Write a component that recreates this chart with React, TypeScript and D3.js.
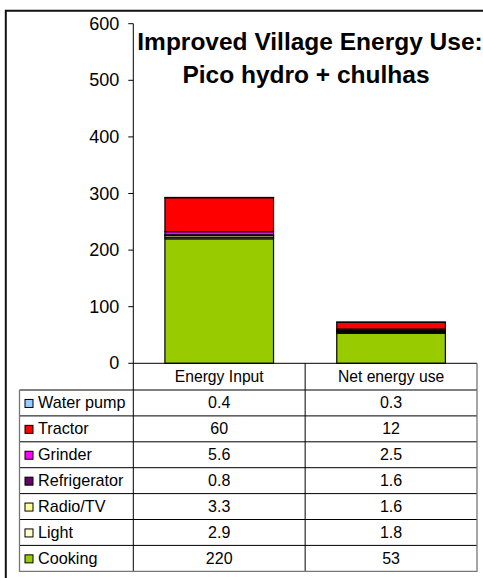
import React from "react";
import * as d3 from "d3";

const columns = ["Energy Input", "Net energy use"];
// bottom-to-top stacking order
const seriesNames = ["Cooking", "Light", "Radio/TV", "Refrigerator", "Grinder", "Tractor", "Water pump"];
const energyInput = [220, 2.9, 3.3, 0.8, 5.6, 60, 0.4];
const netEnergyUse = [53, 1.8, 1.6, 1.6, 2.5, 12, 0.3];
const seriesColors = ["#99CC00", "#FFFFCC", "#FFFF99", "#660066", "#FF00FF", "#FF0000", "#99CCFF"];
const yTicks = [0, 100, 200, 300, 400, 500, 600];
const titleLines = ["Improved Village Energy Use:", "Pico hydro + chulhas"];

const W = 483;
const H = 578;
const FONT = "Liberation Sans, Arial, sans-serif";

export default function App() {
  const axisX = 133.3;
  const tableRight = 477;
  const tableLeft = 19.5;
  const y0 = 363.3;
  const y600 = 23.7;
  const rowH = 25.9;

  const x = d3.scaleBand<string>().domain(columns).range([axisX, tableRight]).paddingInner(0.368).paddingOuter(0.184);
  const xCol = d3.scaleBand<string>().domain(columns).range([axisX, tableRight]);
  const y = d3.scaleLinear().domain([0, 600]).range([y0, y600]);

  const rows = columns.map((c, i) => {
    const r: Record<string, any> = { col: c };
    seriesNames.forEach((s, j) => {
      r[s] = i === 0 ? energyInput[j] : netEnergyUse[j];
    });
    return r;
  });
  const stacked = d3.stack<any>().keys(seriesNames)(rows);

  const tableRows = seriesNames.map((s, j) => ({ name: s, color: seriesColors[j], vals: [energyInput[j], netEnergyUse[j]] })).reverse();
  const tableTop = y0 + rowH + 0.8;
  const tableBottom = tableTop + rowH * tableRows.length;

  return (
    <svg width={W} height={H} style={{ position: "absolute", left: 0, top: 0, background: "#fff" }} fontFamily={FONT}>
      <rect x={0} y={0} width={W} height={H} fill="#fff" />
      {/* outer frame */}
      <path d={`M5.8,${H + 2} V10.8 H${W + 2}`} fill="none" stroke="#111" strokeWidth={2} />

      {/* bars */}
      {stacked.map((layer, li) => (
        <g key={layer.key}>
          {layer.map((d: any, i: number) => (
            <rect
              key={i}
              x={x(columns[i])}
              width={x.bandwidth()}
              y={y(d[1])}
              height={y(d[0]) - y(d[1])}
              fill={seriesColors[li]}
              stroke="#000"
              strokeWidth={1.2}
            />
          ))}
        </g>
      ))}

      {/* y axis */}
      <line x1={axisX} x2={axisX} y1={y(600)} y2={tableBottom} stroke="#000" strokeWidth={1} />
      {yTicks.map((t) => (
        <g key={t}>
          <line x1={axisX - 5} x2={axisX} y1={y(t)} y2={y(t)} stroke="#000" strokeWidth={1} />
          <text x={axisX - 14} y={y(t) + 6} textAnchor="end" fontSize={18} fill="#000">
            {t}
          </text>
        </g>
      ))}

      {/* title */}
      {titleLines.map((t, i) => (
        <text key={i} x={i === 0 ? 310 : 306} y={50 + i * 33} textAnchor="middle" fontSize={24.5} fontWeight="bold" fill="#000">
          {t}
        </text>
      ))}

      {/* data table header */}
      <line x1={axisX} x2={tableRight} y1={y0} y2={y0} stroke="#000" strokeWidth={1} />
      {columns.map((c) => (
        <text key={c} x={(xCol(c) as number) + xCol.bandwidth() / 2} y={y0 + 18.5} textAnchor="middle" fontSize={15.7} fill="#000">
          {c}
        </text>
      ))}
      <line x1={(xCol(columns[1]) as number)} x2={(xCol(columns[1]) as number)} y1={y0} y2={tableBottom} stroke="#000" strokeWidth={1} />

      {/* data table rows */}
      {tableRows.map((r, i) => {
        const top = tableTop + i * rowH;
        return (
          <g key={r.name}>
            {i > 0 && <line x1={tableLeft} x2={tableRight} y1={top} y2={top} stroke="#000" strokeWidth={1} />}
            <rect x={25} y={top + rowH / 2 - 3.5} width={8} height={8} fill={r.color} stroke="#000" strokeWidth={1} />
            <text x={38} y={top + rowH / 2 + 5.5} fontSize={16.2} fill="#000">
              {r.name}
            </text>
            {r.vals.map((v, k) => (
              <text key={k} x={(xCol(columns[k]) as number) + xCol.bandwidth() / 2} y={top + rowH / 2 + 5.5} textAnchor="middle" fontSize={16} fill="#000">
                {String(v)}
              </text>
            ))}
          </g>
        );
      })}
      <line x1={tableLeft} x2={tableRight} y1={tableTop} y2={tableTop} stroke="#000" strokeWidth={1} />
      <path d={`M${tableLeft},${tableTop} V${tableBottom} H${tableRight} V${y0}`} fill="none" stroke="#777" strokeWidth={1.3} />
    </svg>
  );
}
